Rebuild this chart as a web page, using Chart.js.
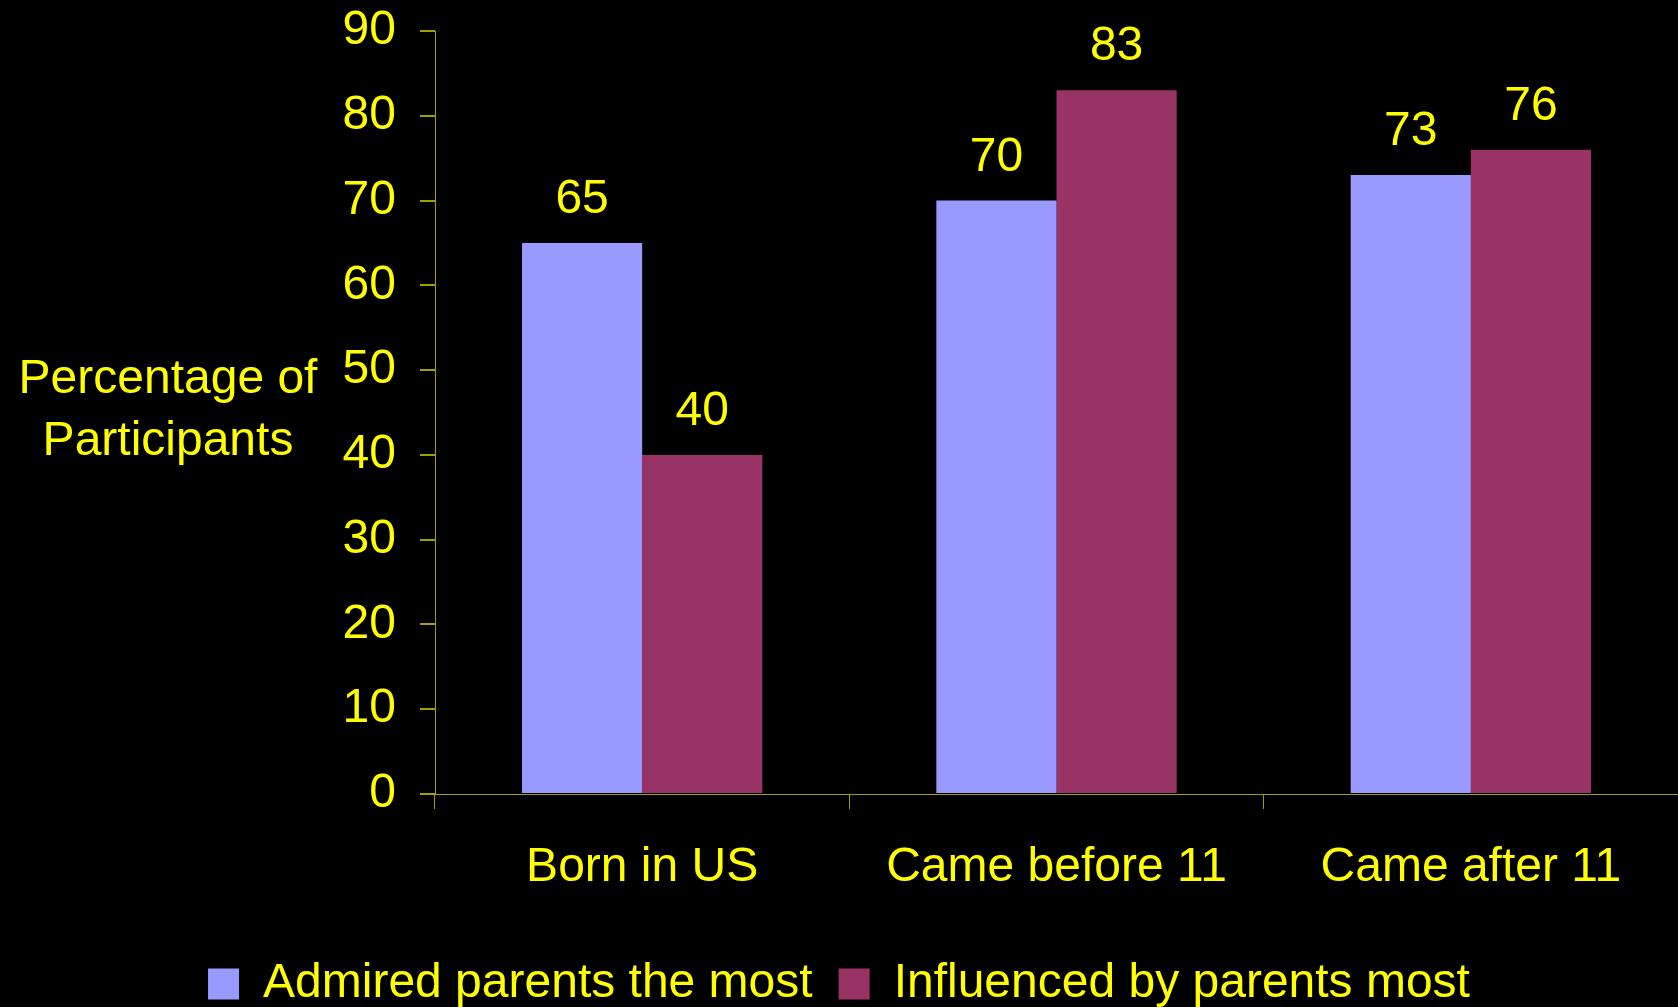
<!DOCTYPE html>
<html>
<head>
<meta charset="utf-8">
<script src="https://cdn.jsdelivr.net/npm/chart.js@4"></script>
<style>
  html, body { margin: 0; padding: 0; background: #000; overflow: hidden; }
  #wrap { width: 1678px; height: 1018px; }
</style>
</head>
<body>
<div id="wrap"><canvas id="chart" width="1678" height="1018"></canvas></div>
<script>
const categories = ["Born in US", "Came before 11", "Came after 11"];
const admired = [65, 70, 73];
const influenced = [40, 83, 76];
const seriesNames = ["Admired parents the most", "Influenced by parents most"];
const yTitle = ["Percentage of", "Participants"];

const yellow = "#ffff00";
const axisColor = "#a0a000";
const font = "'Liberation Sans', Arial, sans-serif";

// value labels above bars + horizontal y title
const extras = {
  id: "extras",
  afterDatasetsDraw(chart) {
    const ctx = chart.ctx;
    ctx.save();
    ctx.fillStyle = yellow;
    ctx.font = "48px " + font;
    ctx.textAlign = "center";
    ctx.textBaseline = "alphabetic";
    chart.data.datasets.forEach((ds, i) => {
      chart.getDatasetMeta(i).data.forEach((bar, j) => {
        ctx.fillText(ds.data[j], bar.x, bar.y - 30);
      });
    });
    const y = chart.scales.y;
    const mid = (y.top + y.bottom) / 2;
    ctx.textBaseline = "middle";
    ctx.fillText(yTitle[0], 168, mid - 33);
    ctx.fillText(yTitle[1], 168, mid + 29);
    ctx.restore();
  }
};

new Chart(document.getElementById("chart").getContext("2d"), {
  type: "bar",
  data: {
    labels: categories,
    datasets: [
      { label: seriesNames[0], data: admired, backgroundColor: "#9999ff" },
      { label: seriesNames[1], data: influenced, backgroundColor: "#993366" }
    ]
  },
  options: {
    responsive: false,
    animation: false,
    layout: { padding: { top: 31, right: 0, left: 0, bottom: 0 } },
    datasets: {
      bar: { categoryPercentage: 0.58, barPercentage: 1.0 }
    },
    plugins: {
      legend: {
        position: "bottom",
        labels: {
          color: yellow,
          font: { family: font, size: 48 },
          boxWidth: 31,
          boxHeight: 31,
          padding: 26
        }
      },
      tooltip: { enabled: false }
    },
    scales: {
      x: {
        offset: true,
        grid: { display: true, offset: true, drawOnChartArea: false, color: axisColor, tickLength: 15, lineWidth: 1 },
        border: { color: axisColor, width: 1 },
        ticks: { color: yellow, font: { family: font, size: 48 }, padding: 30, maxRotation: 0 },
        afterFit(s) { s.height = 140; }
      },
      y: {
        min: 0,
        max: 90,
        ticks: { stepSize: 10, color: yellow, font: { family: font, size: 48 }, padding: 24 },
        grid: { display: true, drawOnChartArea: false, color: axisColor, tickLength: 15, lineWidth: 2 },
        border: { color: axisColor, width: 1 },
        afterFit(s) { s.width = 435; s.paddingTop = 0; }
      }
    }
  },
  plugins: [extras]
});
</script>
</body>
</html>
